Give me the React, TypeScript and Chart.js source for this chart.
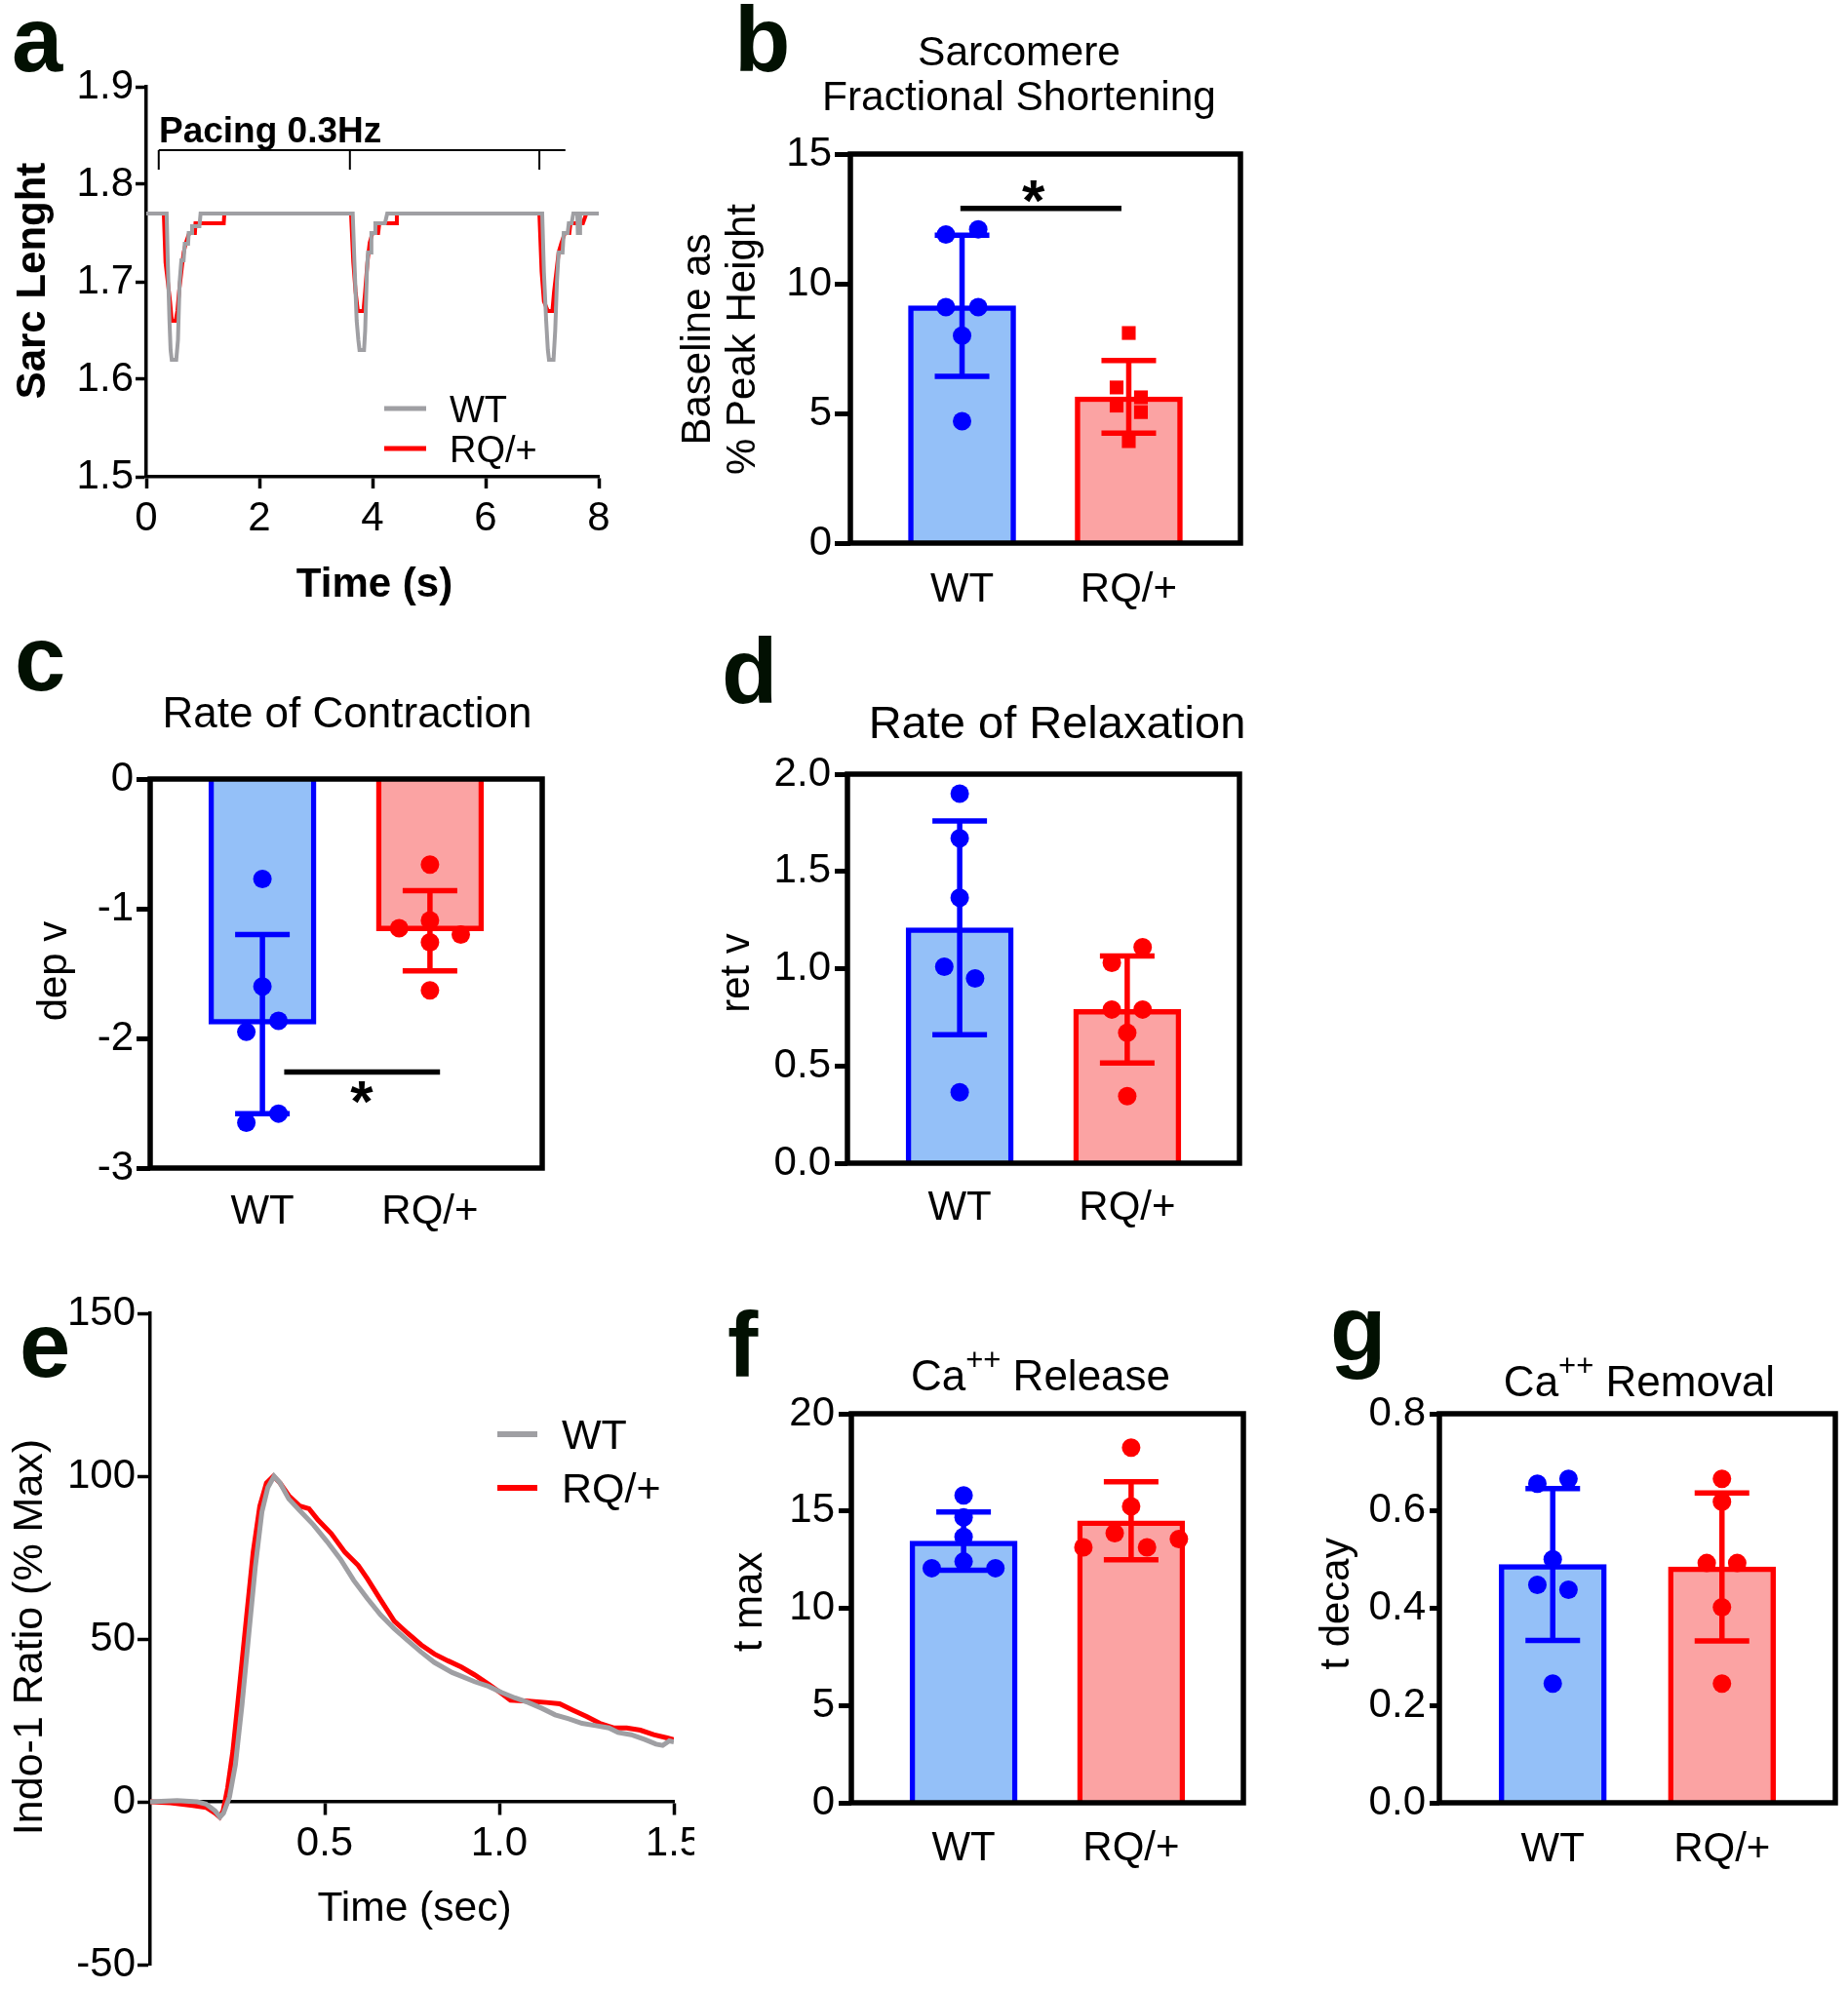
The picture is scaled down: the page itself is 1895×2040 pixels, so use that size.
import React, { useEffect, useRef } from 'react';
import { Chart, registerables } from 'chart.js';

Chart.register(...registerables);

const FONT = '"Liberation Sans", Arial, Helvetica, sans-serif';
const BLACK = '#000000';
const LETTER = '#021002';
const BLUE = '#0000ff';
const RED = '#ff0000';
const BLUE_FILL = '#94c0f8';
const RED_FILL = '#fba3a3';
const GRAY = '#9f9fa3';

// ================= DATA =================
const groups = ['WT', 'RQ/+'];

// (a) sarcomere length traces
const aWtTime = [0, 0.36, 0.38, 0.41, 0.43, 0.45, 0.53, 0.56, 0.59, 0.62, 0.66, 0.68, 0.74, 0.75, 0.8, 0.81, 0.94, 0.96,
  3.65, 3.68, 3.72, 3.75, 3.77, 3.85, 3.87, 3.9, 3.92, 3.97, 3.98, 4.04, 4.05, 4.22, 4.26,
  7.0, 7.03, 7.07, 7.1, 7.12, 7.2, 7.23, 7.26, 7.29, 7.36, 7.38, 7.45, 7.47, 7.52, 7.55, 7.62, 7.63, 7.66, 7.67, 8.0];
const aWtLength = [1.77, 1.77, 1.72, 1.66, 1.63, 1.62, 1.62, 1.64, 1.7, 1.722, 1.722, 1.739, 1.739, 1.75, 1.75, 1.757, 1.757, 1.77,
  1.77, 1.72, 1.66, 1.64, 1.63, 1.63, 1.65, 1.71, 1.73, 1.73, 1.75, 1.75, 1.76, 1.76, 1.77,
  1.77, 1.71, 1.66, 1.63, 1.62, 1.62, 1.65, 1.7, 1.73, 1.73, 1.75, 1.75, 1.76, 1.76, 1.77, 1.77, 1.75, 1.75, 1.77, 1.77];
const aRqTime = [0, 0.31, 0.34, 0.38, 0.42, 0.45, 0.52, 0.55, 0.58, 0.62, 0.66, 0.7, 0.76, 0.86, 0.87, 1.37, 1.38,
  3.62, 3.66, 3.7, 3.74, 3.84, 3.87, 3.91, 3.95, 4.0, 4.1, 4.12, 4.42, 4.43,
  6.95, 6.99, 7.03, 7.1, 7.18, 7.21, 7.25, 7.29, 7.34, 7.4, 7.48, 7.5, 7.72, 7.78, 8.0];
const aRqLength = [1.77, 1.77, 1.72, 1.7, 1.68, 1.66, 1.66, 1.67, 1.69, 1.71, 1.73, 1.74, 1.75, 1.75, 1.76, 1.76, 1.77,
  1.77, 1.72, 1.69, 1.67, 1.67, 1.69, 1.72, 1.74, 1.75, 1.75, 1.76, 1.76, 1.77,
  1.77, 1.71, 1.68, 1.67, 1.67, 1.69, 1.71, 1.73, 1.74, 1.75, 1.75, 1.76, 1.76, 1.77, 1.77];
const aXTicks = [0, 2, 4, 6, 8];
const aYTicks = [1.5, 1.6, 1.7, 1.8, 1.9];
const pacingStimuli = [0.22, 3.6, 6.95];
const pacingEnd = 7.41;
const pacingLevel = 1.835;
const pacingTickLevel = 1.815;

// (b) fractional shortening
const bMean = [9.15, 5.64];
const bSd = [2.72, 1.4];
const bWt = [11.9, 12.1, 9.1, 9.1, 8.0, 4.7];
const bWtJitter = [-0.097, 0.097, -0.097, 0.097, 0, 0];
const bRq = [8.1, 6.0, 5.62, 5.3, 5.05, 3.93];
const bRqJitter = [0, -0.073, 0.073, -0.073, 0.073, 0];
const bYTicks = [0, 5, 10, 15];
const bSigLine = [-0.01, 0.956, 12.9];
const bSigStar = [0.428, 13.75];

// (c) rate of contraction
const cMean = [-1.89, -1.17];
const cSd = [0.69, 0.31];
const cWt = [-0.77, -1.6, -1.865, -1.95, -2.58, -2.65];
const cWtJitter = [0, 0, 0.096, -0.096, 0.096, -0.096];
const cRq = [-0.66, -1.09, -1.15, -1.2, -1.26, -1.63];
const cRqJitter = [0, 0, -0.184, 0.184, 0, 0];
const cYTicks = [-3, -2, -1, 0];
const cSigLine = [0.13, 1.06, -2.26];
const cSigStar = [0.593, -2.38];

// (d) rate of relaxation
const dMean = [1.21, 0.79];
const dSd = [0.55, 0.275];
const dWt = [1.9, 1.67, 1.365, 1.01, 0.95, 0.365];
const dWtJitter = [0, 0, 0, -0.092, 0.092, 0];
const dRq = [1.11, 1.03, 0.79, 0.79, 0.67, 0.345];
const dRqJitter = [0.092, -0.092, -0.092, 0.092, 0, 0];
const dYTicks = [0, 0.5, 1.0, 1.5, 2.0];

// (e) calcium transients
const eWtTime = [0, 0.077, 0.135, 0.16, 0.186, 0.2, 0.21, 0.227, 0.244, 0.263, 0.282, 0.301, 0.32, 0.337, 0.355, 0.372,
  0.397, 0.429, 0.468, 0.506, 0.545, 0.583, 0.622, 0.66, 0.699, 0.737, 0.776, 0.814, 0.865, 0.891, 0.929, 0.968,
  1.006, 1.045, 1.083, 1.122, 1.16, 1.199, 1.237, 1.276, 1.314, 1.34, 1.378, 1.417, 1.449, 1.468, 1.487, 1.5];
const eWtRatio = [0, 0.4, 0, -0.7, -2.8, -4.7, -3.5, 1.4, 11.3, 29.8, 51, 72, 89, 96.5, 100, 97.9,
  93, 89.4, 85, 80, 74.5, 68, 62.4, 57.4, 53.2, 49.6, 46, 42.8, 39.7, 38.6, 36.9, 35.5,
  33.6, 31.9, 30.5, 28.7, 26.7, 25.5, 24.1, 23.4, 22.7, 21.3, 20.6, 19.1, 17.7, 17.3, 18.7, 18.4];
const eRqTime = [0, 0.058, 0.122, 0.16, 0.186, 0.199, 0.209, 0.222, 0.237, 0.256, 0.276, 0.295, 0.314, 0.333, 0.353, 0.372,
  0.397, 0.429, 0.455, 0.481, 0.519, 0.558, 0.596, 0.622, 0.66, 0.699, 0.737, 0.776, 0.814, 0.853, 0.891, 0.929,
  0.968, 1.006, 1.032, 1.083, 1.135, 1.173, 1.212, 1.25, 1.288, 1.327, 1.365, 1.404, 1.442, 1.481, 1.5];
const eRqRatio = [0, -0.3, -1.1, -1.7, -3.5, -4.7, -2.8, 4.3, 15.6, 35.5, 56.7, 76.6, 90.8, 97.9, 100, 97.9,
  94, 90.8, 90, 86.5, 82.3, 76.6, 72.6, 68.5, 62, 55.5, 51.8, 48.2, 45.4, 43.3, 41.4, 39,
  36.2, 33.3, 31.2, 30.9, 30.5, 30.1, 28.1, 26.2, 24.1, 22.7, 22.7, 22, 20.6, 19.6, 19.1];
const eXTicks = [0.5, 1.0, 1.5];
const eYTicks = [-50, 0, 50, 100, 150];

// (f) Ca release t max
const fMean = [13.45, 14.5];
const fSd = [1.5, 2.0];
const fWt = [15.8, 14.67, 13.67, 12.4, 12.06, 12.06];
const fWtJitter = [0, 0, 0, 0, -0.19, 0.19];
const fRq = [18.26, 15.24, 13.86, 13.56, 13.13, 13.13];
const fRqJitter = [0, 0, -0.098, 0.285, -0.285, 0.095];
const fYTicks = [0, 5, 10, 15, 20];

// (g) Ca removal t decay
const gMean = [0.49, 0.485];
const gSd = [0.156, 0.152];
const gWt = [0.666, 0.656, 0.501, 0.448, 0.438, 0.245];
const gWtJitter = [0.093, -0.091, 0, -0.091, 0.093, 0];
const gRq = [0.666, 0.619, 0.493, 0.493, 0.402, 0.245];
const gRqJitter = [0, 0, -0.09, 0.09, 0, 0];
const gYTicks = [0, 0.2, 0.4, 0.6, 0.8];

// ================= HELPERS =================
type TextItem = {
  text?: string;
  rich?: { t: string; size: number; dy?: number }[];
  line?: number[];
  x?: number;
  y?: number;
  size?: number;
  bold?: boolean;
  align?: CanvasTextAlign;
  rotate?: boolean;
  color?: string;
  width?: number;
};

function drawTexts(ctx: CanvasRenderingContext2D, items: TextItem[], ox: number, oy: number) {
  for (const it of items) {
    ctx.save();
    if (it.line) {
      ctx.strokeStyle = it.color || BLACK;
      ctx.lineWidth = it.width || 5;
      ctx.beginPath();
      ctx.moveTo(it.line[0] - ox, it.line[2] - oy);
      ctx.lineTo(it.line[1] - ox, it.line[2] - oy);
      ctx.stroke();
      ctx.restore();
      continue;
    }
    ctx.fillStyle = it.color || BLACK;
    ctx.textBaseline = 'alphabetic';
    if (it.rich) {
      let total = 0;
      for (const p of it.rich) {
        ctx.font = `${p.size}px ${FONT}`;
        total += ctx.measureText(p.t).width;
      }
      let x = (it.x as number) - ox - total / 2;
      ctx.textAlign = 'left';
      for (const p of it.rich) {
        ctx.font = `${p.size}px ${FONT}`;
        ctx.fillText(p.t, x, (it.y as number) - oy + (p.dy || 0));
        x += ctx.measureText(p.t).width;
      }
    } else {
      ctx.font = `${it.bold ? 'bold ' : ''}${it.size || 42}px ${FONT}`;
      ctx.textAlign = it.align || 'center';
      if (it.rotate) {
        ctx.translate((it.x as number) - ox, (it.y as number) - oy);
        ctx.rotate(-Math.PI / 2);
        ctx.fillText(it.text as string, 0, 0);
      } else {
        ctx.fillText(it.text as string, (it.x as number) - ox, (it.y as number) - oy);
      }
    }
    ctx.restore();
  }
}

function textPlugin(items: TextItem[], ox: number, oy: number) {
  return { id: 'panelText', afterDraw(chart: any) { drawTexts(chart.ctx, items, ox, oy); } };
}

const boxPlugin = {
  id: 'box',
  afterDatasetsDraw(chart: any) {
    const { ctx, chartArea: a } = chart;
    ctx.save();
    ctx.strokeStyle = BLACK;
    ctx.lineWidth = 5.5;
    ctx.strokeRect(a.left, a.top, a.right - a.left, a.bottom - a.top);
    ctx.restore();
  },
};

function errorPlugin(mean: number[], sd: number[]) {
  return {
    id: 'errorBars',
    afterDatasetDraw(chart: any, args: any) {
      if (args.meta.type !== 'bar') return;
      const { ctx } = chart;
      const x = chart.scales.x;
      const y = chart.scales.y;
      ctx.save();
      ctx.lineWidth = 5.5;
      ctx.lineCap = 'butt';
      mean.forEach((m, i) => {
        const px = x.getPixelForValue(i);
        const top = y.getPixelForValue(m + sd[i]);
        const bot = y.getPixelForValue(m - sd[i]);
        ctx.strokeStyle = i === 0 ? BLUE : RED;
        ctx.beginPath();
        ctx.moveTo(px, top); ctx.lineTo(px, bot);
        ctx.moveTo(px - 28, top); ctx.lineTo(px + 28, top);
        ctx.moveTo(px - 28, bot); ctx.lineTo(px + 28, bot);
        ctx.stroke();
      });
      ctx.restore();
    },
  };
}

function sigPlugin(line: number[], star: number[]) {
  return {
    id: 'sig',
    afterDraw(chart: any) {
      const { ctx } = chart;
      const x = chart.scales.x;
      const y = chart.scales.y;
      ctx.save();
      ctx.strokeStyle = BLACK;
      ctx.lineWidth = 5.5;
      ctx.beginPath();
      ctx.moveTo(x.getPixelForValue(line[0]), y.getPixelForValue(line[2]));
      ctx.lineTo(x.getPixelForValue(line[1]), y.getPixelForValue(line[2]));
      ctx.stroke();
      const size = 60;
      ctx.fillStyle = BLACK;
      ctx.font = `bold ${size}px ${FONT}`;
      ctx.textAlign = 'center';
      ctx.textBaseline = 'alphabetic';
      ctx.fillText('*', x.getPixelForValue(star[0]), y.getPixelForValue(star[1]) + 0.58 * size);
      ctx.restore();
    },
  };
}

function fixY(width: number) {
  return (s: any) => { s.width = width; s.paddingTop = 0; s.paddingBottom = 0; };
}
function fixX(height: number) {
  return (s: any) => { s.height = height; s.paddingLeft = 0; s.paddingRight = 0; };
}
function setTicks(values: number[]) {
  return (s: any) => { s.ticks = values.map((v) => ({ value: v })); };
}

type Box = { left: number; top: number; width: number; height: number };
type Area = { l: number; t: number; r: number; b: number };

type BarSpec = {
  box: Box;
  area: Area;
  yTicks: number[];
  yDec: number;
  mean: number[];
  sd: number[];
  wt: number[];
  wtJitter: number[];
  rq: number[];
  rqJitter: number[];
  rqSquare?: boolean;
  sigLine?: number[];
  sigStar?: number[];
  tickLen: number;
  tickPad: number;
  labelPad: number;
  texts: TextItem[];
};

function barConfig(p: BarSpec): any {
  const { box, area } = p;
  const plugins: any[] = [errorPlugin(p.mean, p.sd), boxPlugin];
  if (p.sigLine && p.sigStar) plugins.push(sigPlugin(p.sigLine, p.sigStar));
  plugins.push(textPlugin(p.texts, box.left, box.top));
  return {
    type: 'bar',
    data: {
      datasets: [
        {
          type: 'scatter', label: 'WT points',
          data: p.wt.map((v, i) => ({ x: 0 + p.wtJitter[i], y: v })),
          backgroundColor: BLUE, borderColor: BLUE, borderWidth: 0, pointRadius: 9.5, pointHoverRadius: 9.5, order: 0,
        },
        {
          type: 'scatter', label: 'RQ/+ points',
          data: p.rq.map((v, i) => ({ x: 1 + p.rqJitter[i], y: v })),
          backgroundColor: RED, borderColor: RED, borderWidth: 0,
          pointStyle: p.rqSquare ? 'rect' : 'circle',
          pointRadius: p.rqSquare ? 10 : 9.5, pointHoverRadius: p.rqSquare ? 10 : 9.5, order: 0,
        },
        {
          type: 'bar', label: 'mean',
          data: p.mean.map((m, i) => ({ x: i, y: m })),
          backgroundColor: [BLUE_FILL, RED_FILL], borderColor: [BLUE, RED],
          borderWidth: 5.5, barThickness: 110, borderSkipped: 'start', order: 1,
        },
      ],
    },
    options: {
      animation: false, responsive: false, maintainAspectRatio: false, devicePixelRatio: 1,
      events: [],
      layout: { padding: { left: 0, bottom: 0, top: area.t - box.top, right: box.left + box.width - area.r } },
      plugins: { legend: { display: false }, tooltip: { enabled: false } },
      scales: {
        x: {
          type: 'linear', min: -0.67, max: 1.67, offset: false,
          afterBuildTicks: setTicks([0, 1]),
          afterFit: fixX(box.top + box.height - area.b),
          ticks: { callback: (v: number) => groups[Math.round(v)], font: { family: FONT, size: 42 }, color: BLACK, padding: p.labelPad, autoSkip: false, maxRotation: 0 },
          grid: { display: false, drawTicks: false, offset: false },
          border: { display: false },
        },
        y: {
          type: 'linear', min: p.yTicks[0], max: p.yTicks[p.yTicks.length - 1],
          afterBuildTicks: setTicks(p.yTicks),
          afterFit: fixY(area.l - box.left),
          ticks: { callback: (v: number) => Number(v).toFixed(p.yDec), font: { family: FONT, size: 42 }, color: BLACK, padding: p.tickPad },
          grid: { display: true, drawOnChartArea: false, drawTicks: true, tickLength: p.tickLen, tickWidth: 5, tickColor: BLACK },
          border: { display: false },
        },
      },
    },
    plugins,
  };
}

// ================= PANEL A =================
const aBox: Box = { left: 0, top: 0, width: 650, height: 630 };
const aArea: Area = { l: 150, t: 89, r: 614, b: 489 };
const aTexts: TextItem[] = [
  { text: 'a', x: 12, y: 72.5, size: 94, bold: true, align: 'left', color: LETTER },
  { text: 'Pacing 0.3Hz', x: 163, y: 146, size: 37, bold: true, align: 'left' },
  { text: 'Sarc Lenght', x: 46, y: 288, size: 42, bold: true, rotate: true },
  { text: 'Time (s)', x: 384, y: 612, size: 42, bold: true },
  { line: [394, 437, 419], color: GRAY, width: 5 },
  { line: [394, 437, 460], color: RED, width: 5 },
  { text: 'WT', x: 461, y: 433, size: 38, align: 'left' },
  { text: 'RQ/+', x: 461, y: 474, size: 38, align: 'left' },
];

const pacingPlugin = {
  id: 'pacing',
  afterDraw(chart: any) {
    const { ctx } = chart;
    const x = chart.scales.x;
    const y = chart.scales.y;
    const yl = y.getPixelForValue(pacingLevel);
    const yt = y.getPixelForValue(pacingTickLevel);
    ctx.save();
    ctx.strokeStyle = BLACK;
    ctx.lineWidth = 2;
    ctx.beginPath();
    ctx.moveTo(x.getPixelForValue(pacingStimuli[0]), yl);
    ctx.lineTo(x.getPixelForValue(pacingEnd), yl);
    pacingStimuli.forEach((t) => {
      ctx.moveTo(x.getPixelForValue(t), yl);
      ctx.lineTo(x.getPixelForValue(t), yt);
    });
    ctx.stroke();
    ctx.restore();
  },
};

function aConfig(): any {
  return {
    type: 'line',
    data: {
      datasets: [
        { label: 'WT', data: aWtTime.map((t, i) => ({ x: t, y: aWtLength[i] })), borderColor: GRAY, borderWidth: 4, pointRadius: 0, tension: 0, fill: false },
        { label: 'RQ/+', data: aRqTime.map((t, i) => ({ x: t, y: aRqLength[i] })), borderColor: RED, borderWidth: 4, pointRadius: 0, tension: 0, fill: false },
      ],
    },
    options: {
      animation: false, responsive: false, maintainAspectRatio: false, devicePixelRatio: 1, events: [],
      layout: { padding: { left: 0, bottom: 0, top: aArea.t - aBox.top, right: aBox.left + aBox.width - aArea.r } },
      plugins: { legend: { display: false }, tooltip: { enabled: false } },
      scales: {
        x: {
          type: 'linear', min: 0, max: 8,
          afterBuildTicks: setTicks(aXTicks),
          afterFit: fixX(aBox.top + aBox.height - aArea.b),
          ticks: { font: { family: FONT, size: 42 }, color: BLACK, padding: 6, autoSkip: false, maxRotation: 0 },
          grid: { display: true, drawOnChartArea: false, drawTicks: true, tickLength: 12, tickWidth: 3.5, tickColor: BLACK },
          border: { display: true, width: 3.5, color: BLACK },
        },
        y: {
          type: 'linear', min: 1.5, max: 1.9,
          afterBuildTicks: setTicks(aYTicks),
          afterFit: fixY(aArea.l - aBox.left),
          ticks: { callback: (v: number) => Number(v).toFixed(1), font: { family: FONT, size: 42 }, color: BLACK, padding: 2 },
          grid: { display: true, drawOnChartArea: false, drawTicks: true, tickLength: 11, tickWidth: 3.5, tickColor: BLACK },
          border: { display: true, width: 3.5, color: BLACK },
        },
      },
    },
    plugins: [pacingPlugin, textPlugin(aTexts, aBox.left, aBox.top)],
  };
}

// ================= PANEL E =================
const eBox: Box = { left: 0, top: 1300, width: 712, height: 740 };
const eArea: Area = { l: 154, t: 1347, r: 691, b: 2015 };
const eTexts: TextItem[] = [
  { text: 'e', x: 20, y: 1412, size: 94, bold: true, align: 'left', color: LETTER },
  { text: 'Indo-1 Ratio (% Max)', x: 43, y: 1679, size: 43, rotate: true },
  { text: 'Time (sec)', x: 425, y: 1970, size: 42.5 },
  { line: [510, 551, 1471], color: GRAY, width: 6 },
  { line: [510, 551, 1526], color: RED, width: 6 },
  { text: 'WT', x: 576, y: 1486, size: 43, align: 'left' },
  { text: 'RQ/+', x: 576, y: 1541, size: 43, align: 'left' },
];

function eConfig(): any {
  return {
    type: 'line',
    data: {
      datasets: [
        { label: 'WT', data: eWtTime.map((t, i) => ({ x: t, y: eWtRatio[i] })), borderColor: GRAY, borderWidth: 5, pointRadius: 0, tension: 0, fill: false },
        { label: 'RQ/+', data: eRqTime.map((t, i) => ({ x: t, y: eRqRatio[i] })), borderColor: RED, borderWidth: 5, pointRadius: 0, tension: 0, fill: false },
      ],
    },
    options: {
      animation: false, responsive: false, maintainAspectRatio: false, devicePixelRatio: 1, events: [],
      layout: { padding: { left: 0, top: eArea.t - eBox.top, right: eBox.left + eBox.width - eArea.r, bottom: eBox.top + eBox.height - eArea.b } },
      plugins: { legend: { display: false }, tooltip: { enabled: false } },
      scales: {
        x: {
          type: 'linear', min: 0, max: 1.5, position: { y: 0 },
          afterBuildTicks: setTicks(eXTicks),
          afterFit: fixX(0),
          ticks: { callback: (v: number) => Number(v).toFixed(1), font: { family: FONT, size: 42 }, color: BLACK, padding: 6, autoSkip: false, maxRotation: 0 },
          grid: { display: true, drawOnChartArea: false, drawTicks: true, tickLength: 12, tickWidth: 3.5, tickColor: BLACK },
          border: { display: true, width: 3.5, color: BLACK },
        },
        y: {
          type: 'linear', min: -50, max: 150,
          afterBuildTicks: setTicks(eYTicks),
          afterFit: fixY(eArea.l - eBox.left),
          ticks: { font: { family: FONT, size: 42 }, color: BLACK, padding: 2 },
          grid: { display: true, drawOnChartArea: false, drawTicks: true, tickLength: 13, tickWidth: 3.5, tickColor: BLACK },
          border: { display: true, width: 3.5, color: BLACK },
        },
      },
    },
    plugins: [textPlugin(eTexts, eBox.left, eBox.top)],
  };
}

// ================= BAR PANELS =================
const bSpec: BarSpec = {
  box: { left: 680, top: 0, width: 620, height: 640 },
  area: { l: 872, t: 158, r: 1272, b: 557 },
  yTicks: bYTicks, yDec: 0, mean: bMean, sd: bSd,
  wt: bWt, wtJitter: bWtJitter, rq: bRq, rqJitter: bRqJitter, rqSquare: true,
  sigLine: bSigLine, sigStar: bSigStar, tickLen: 16, tickPad: 3, labelPad: 23,
  texts: [
    { text: 'b', x: 753, y: 73, size: 94, bold: true, align: 'left', color: LETTER },
    { text: 'Sarcomere', x: 1045, y: 67, size: 42.5 },
    { text: 'Fractional Shortening', x: 1045, y: 113, size: 42.5 },
    { text: 'Baseline as', x: 728, y: 348, size: 42, rotate: true },
    { text: '% Peak Height', x: 774, y: 348, size: 42, rotate: true },
  ],
};

const cSpec: BarSpec = {
  box: { left: 0, top: 640, width: 620, height: 640 },
  area: { l: 154, t: 799, r: 556, b: 1198 },
  yTicks: cYTicks, yDec: 0, mean: cMean, sd: cSd,
  wt: cWt, wtJitter: cWtJitter, rq: cRq, rqJitter: cRqJitter,
  sigLine: cSigLine, sigStar: cSigStar, tickLen: 14, tickPad: 3, labelPad: 20,
  texts: [
    { text: 'c', x: 15, y: 708, size: 94, bold: true, align: 'left', color: LETTER },
    { text: 'Rate of Contraction', x: 356, y: 746, size: 44 },
    { text: 'dep v', x: 68, y: 996, size: 42, rotate: true },
  ],
};

const dSpec: BarSpec = {
  box: { left: 700, top: 640, width: 620, height: 640 },
  area: { l: 869, t: 794, r: 1271, b: 1193 },
  yTicks: dYTicks, yDec: 1, mean: dMean, sd: dSd,
  wt: dWt, wtJitter: dWtJitter, rq: dRq, rqJitter: dRqJitter,
  tickLen: 13, tickPad: 4, labelPad: 21,
  texts: [
    { text: 'd', x: 740, y: 721, size: 94, bold: true, align: 'left', color: LETTER },
    { text: 'Rate of Relaxation', x: 1084, y: 757, size: 47 },
    { text: 'ret v', x: 768, y: 998, size: 42, rotate: true },
  ],
};

const fSpec: BarSpec = {
  box: { left: 720, top: 1320, width: 600, height: 620 },
  area: { l: 873, t: 1450, r: 1275, b: 1849 },
  yTicks: fYTicks, yDec: 0, mean: fMean, sd: fSd,
  wt: fWt, wtJitter: fWtJitter, rq: fRq, rqJitter: fRqJitter,
  tickLen: 13, tickPad: 4, labelPad: 22,
  texts: [
    { text: 'f', x: 746, y: 1412, size: 94, bold: true, align: 'left', color: LETTER },
    { rich: [{ t: 'Ca', size: 44 }, { t: '++', size: 31, dy: -21 }, { t: ' Release', size: 44 }], x: 1067, y: 1426 },
    { text: 't max', x: 781, y: 1643, size: 42, rotate: true },
  ],
};

const gSpec: BarSpec = {
  box: { left: 1340, top: 1300, width: 555, height: 640 },
  area: { l: 1476, t: 1450, r: 1882, b: 1849 },
  yTicks: gYTicks, yDec: 1, mean: gMean, sd: gSd,
  wt: gWt, wtJitter: gWtJitter, rq: gRq, rqJitter: gRqJitter,
  tickLen: 10, tickPad: 4, labelPad: 23,
  texts: [
    { text: 'g', x: 1364, y: 1395, size: 94, bold: true, align: 'left', color: LETTER },
    { rich: [{ t: 'Ca', size: 44 }, { t: '++', size: 31, dy: -21 }, { t: ' Removal', size: 44 }], x: 1681, y: 1432 },
    { text: 't decay', x: 1383, y: 1645, size: 42, rotate: true },
  ],
};

// ================= COMPONENTS =================
function ChartPanel({ box, build }: { box: Box; build: () => any }) {
  const ref = useRef<HTMLCanvasElement>(null);
  useEffect(() => {
    if (!ref.current) return;
    const chart = new Chart(ref.current, build());
    return () => chart.destroy();
  }, []);
  return (
    <div style={{ position: 'absolute', left: box.left, top: box.top, width: box.width, height: box.height }}>
      <canvas ref={ref} width={box.width} height={box.height} style={{ width: box.width, height: box.height, display: 'block' }} />
    </div>
  );
}

export default function App() {
  return (
    <div style={{ position: 'absolute', left: 0, top: 0, width: 1895, height: 2040, background: '#ffffff', overflow: 'hidden' }}>
      <ChartPanel box={aBox} build={aConfig} />
      <ChartPanel box={bSpec.box} build={() => barConfig(bSpec)} />
      <ChartPanel box={cSpec.box} build={() => barConfig(cSpec)} />
      <ChartPanel box={dSpec.box} build={() => barConfig(dSpec)} />
      <ChartPanel box={eBox} build={eConfig} />
      <ChartPanel box={fSpec.box} build={() => barConfig(fSpec)} />
      <ChartPanel box={gSpec.box} build={() => barConfig(gSpec)} />
    </div>
  );
}
